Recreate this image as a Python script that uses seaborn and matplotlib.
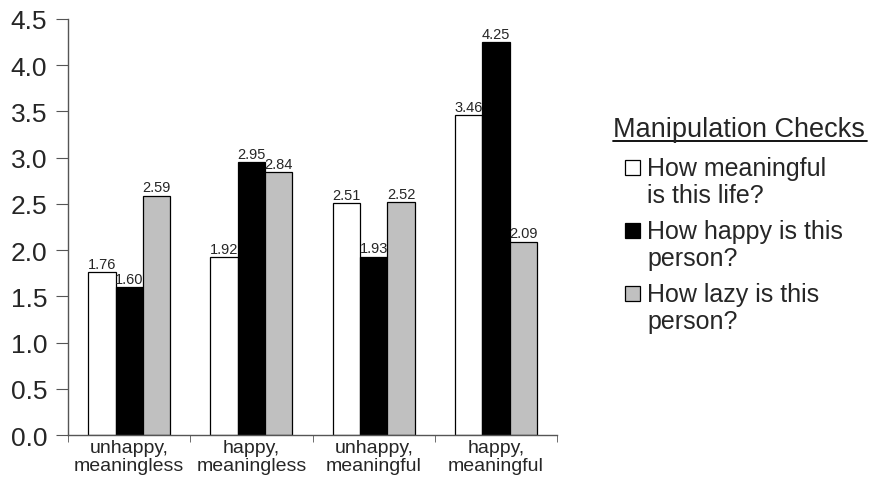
import matplotlib.pyplot as plt
import numpy as np
import pandas as pd
import seaborn as sns

# data
conditions = ['unhappy,\nmeaningless', 'happy,\nmeaningless', 'unhappy,\nmeaningful', 'happy,\nmeaningful']
measures = ['How meaningful\nis this life?', 'How happy is this\nperson?', 'How lazy is this\nperson?']
meaningful = [1.76, 1.92, 2.51, 3.46]
happy = [1.60, 2.95, 1.93, 4.25]
lazy = [2.59, 2.84, 2.52, 2.09]
colors = ['white', 'black', '#c0c0c0']

df = pd.DataFrame({
    'condition': conditions * 3,
    'measure': np.repeat(measures, len(conditions)),
    'value': meaningful + happy + lazy,
})

sns.set_style('ticks')
plt.rcParams['font.family'] = ['Liberation Sans', 'DejaVu Sans']

W, H = 872, 485
fig = plt.figure(figsize=(W / 100, H / 100), dpi=100)
ax = fig.add_axes([0.078, 0.101, 0.561, 0.858])

sns.barplot(data=df, x='condition', y='value', hue='measure', order=conditions,
            hue_order=measures, palette=dict(zip(measures, colors)), saturation=1,
            width=0.67, edgecolor='black', linewidth=0.9, errorbar=None,
            legend=False, ax=ax)

for c in ax.containers:
    ax.bar_label(c, fmt='%.2f', fontsize=10.5, padding=1)

ax.set_ylim(0, 4.5)
ax.set_xlim(-0.5, 3.5)
ax.set_yticks(np.arange(0, 4.51, 0.5))
ax.set_yticklabels(['%.1f' % v for v in np.arange(0, 4.51, 0.5)])
ax.set_xlabel('')
ax.set_ylabel('')
sns.despine(ax=ax)
for s in ['left', 'bottom']:
    ax.spines[s].set_color('#555555')
    ax.spines[s].set_linewidth(1)
ax.tick_params(axis='y', length=9, labelsize=19, color='#555555', pad=6)
ax.tick_params(axis='x', which='major', length=0, labelsize=14, pad=3)
ax.set_xticks(np.arange(-0.5, 3.6, 1), minor=True)
ax.tick_params(axis='x', which='minor', length=5, color='#555555')
for t in ax.get_xticklabels():
    t.set_linespacing(1.1)

# legend on the right, built by hand so the swatch sits on the first line
fig.text(613 / W, 1 - 137 / H, 'Manipulation Checks', fontsize=19.5, va='baseline')
fig.add_artist(plt.Line2D([613 / W, 867 / W], [1 - 142 / H, 1 - 142 / H], color='black', lw=1.3))
for i, (lab, col) in enumerate(zip(measures, colors)):
    base = 176 + i * 63
    fig.add_artist(plt.Rectangle((625 / W, 1 - base / H), 15 / W, 15 / H,
                                 facecolor=col, edgecolor='black', lw=0.9,
                                 transform=fig.transFigure))
    for j, line in enumerate(lab.split('\n')):
        fig.text(647 / W, 1 - (base + 27 * j) / H, line, fontsize=18, va='baseline')

fig.savefig('out.png', dpi=100)
